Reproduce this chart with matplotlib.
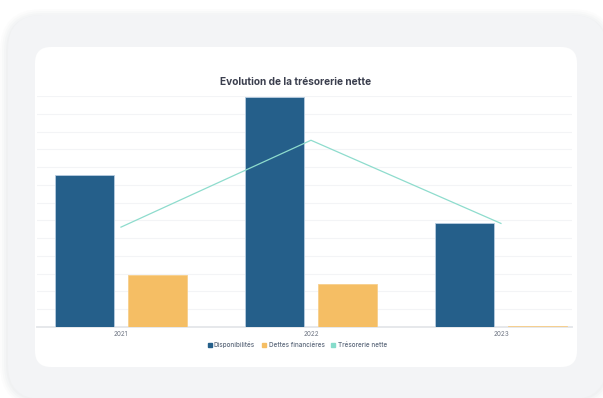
import matplotlib
matplotlib.use("Agg")
import matplotlib.pyplot as plt
from matplotlib.patches import FancyBboxPatch
from matplotlib.lines import Line2D
import numpy as np

years = ["2021", "2022", "2023"]
disponibilites = [8.56, 12.94, 5.88]
dettes = [2.94, 2.43, 0.05]
tresorerie = [5.62, 10.51, 5.83]
series_names = ["Disponibilités", "Dettes financières", "Trésorerie nette"]

W, H = 603, 398
fig = plt.figure(figsize=(W / 100, H / 100), dpi=100)
fig.patch.set_facecolor("white")

def rect(x0, y0, x1, y1, r, color, alpha=1.0, z=0):
    p = FancyBboxPatch((x0 / W, 1 - y1 / H), (x1 - x0) / W, (y1 - y0) / H,
                       boxstyle=f"round,pad=0,rounding_size={r / W}",
                       transform=fig.transFigure, facecolor=color, edgecolor="none",
                       alpha=alpha, zorder=z, mutation_aspect=W / H)
    fig.patches.append(p)

# soft shadow of outer card
for i, a in enumerate([0.025, 0.03, 0.035, 0.04]):
    d = 8 - 2 * i
    rect(8 - d, 15 - d + 2, 606 + d, 399 + d, 34 + d, "#9aa0a8", alpha=a, z=0)
rect(8, 15, 606, 399, 34, "#f3f4f6", z=1)
rect(35, 47, 577, 367, 16, "#ffffff", z=2)

ax = fig.add_axes([37 / W, (H - 327) / H, (572 - 37) / W, (327 - 96) / H])
ax.set_facecolor("none")
ax.set_zorder(5)

x = np.arange(len(years))
off = 0.192
bw = 0.31
ax.bar(x - off, disponibilites, width=bw, color="#255f8a", edgecolor="#b8cde0",
       linewidth=0.6, zorder=3, label=series_names[0])
ax.bar(x + off, dettes, width=bw, color="#f5be64", edgecolor="#f7cf8c",
       linewidth=0.6, zorder=3, label=series_names[1])
ax.plot(x, tresorerie, color="#8edccd", linewidth=0.9, zorder=4, label=series_names[2])

ax.set_xlim(-0.442, 2.374)
ax.set_ylim(0, 13)
ax.set_yticks(np.arange(0, 14))
ax.set_yticklabels([])
ax.tick_params(axis="y", length=0)
ax.grid(axis="y", color="#f3f4f6", linewidth=0.8, zorder=0)
ax.set_xticks(x)
ax.set_xticklabels(years, fontsize=4.6, color="#6b7280", family="Inter")
ax.tick_params(axis="x", length=0, pad=3)
for s in ["top", "right", "left"]:
    ax.spines[s].set_visible(False)
ax.spines["bottom"].set_color("#e6e8eb")
ax.spines["bottom"].set_linewidth(1.4)
ax.spines["bottom"].set_zorder(2)

fig.text(296 / W, 1 - 82 / H, "Evolution de la trésorerie nette", ha="center", va="center",
         fontsize=7.3, fontweight="bold", color="#3b3f4e", family="Inter", zorder=10)

handles = [Line2D([], [], marker="s", linestyle="none", markersize=3.0, color=c)
           for c in ["#255f8a", "#f5be64", "#86dccb"]]
leg = fig.legend(handles, series_names, loc="center", bbox_to_anchor=(297 / W, 1 - 345 / H),
                 ncol=3, frameon=False, handletextpad=0.3, columnspacing=1.0,
                 handlelength=0.8, prop={"family": "Inter", "size": 4.6, "weight": "medium"})
for t in leg.get_texts():
    t.set_color("#5f6b7d")
leg.set_zorder(10)

fig.savefig("out.png", dpi=100, facecolor="white")
